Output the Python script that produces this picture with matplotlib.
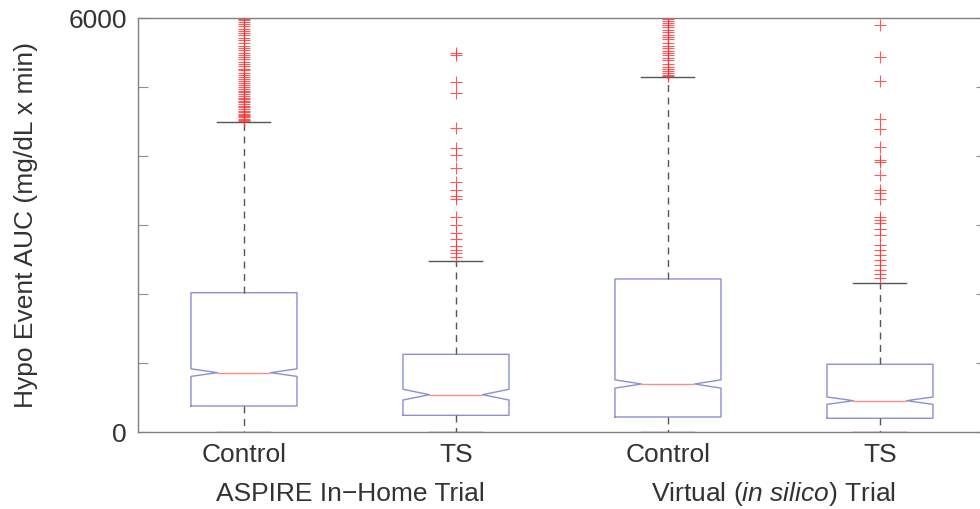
import numpy as np
import matplotlib
matplotlib.use('Agg')
import matplotlib.pyplot as plt

# Summary statistics per group (mg/dL x min)
groups = ['Control', 'TS', 'Control', 'TS']
trial_names = ['ASPIRE In\u2212Home Trial', 'Virtual ($\\it{in\\ silico}$) Trial']

medians = [864, 545, 700, 458]
q1 = [381, 246, 222, 203]
q3 = [2023, 1130, 2222, 986]
whisker_lo = [0, 0, 0, 0]
whisker_hi = [4497, 2487, 5154, 2159]
notch_lo = [810, 468, 640, 405]
notch_hi = [920, 623, 760, 512]

outliers_control_home = [
    4510, 4528, 4545, 4566, 4582, 4604, 4618, 4645, 4662, 4690, 4712, 4735,
    4762, 4788, 4805, 4832, 4851, 4874, 4902, 4925, 4953, 4980, 5004, 5036,
    5062, 5090, 5115, 5152, 5184, 5212, 5245, 5270, 5302, 5335, 5362, 5405,
    5432, 5465, 5502, 5533, 5565, 5604, 5642, 5683, 5714, 5752, 5785, 5822,
    5850, 5884, 5912, 5945, 5972, 5995,
]
outliers_ts_home = [
    5501, 5468, 5081, 4913, 4406, 4116, 4019, 3835, 3632, 3512, 3429, 3381,
    3125, 3004, 2893, 2797, 2700, 2642, 2594, 2545,
]
outliers_control_virtual = [
    5165, 5185, 5202, 5232, 5262, 5294, 5335, 5402, 5424, 5462, 5503, 5522,
    5563, 5594, 5642, 5702, 5733, 5764, 5802, 5835, 5872, 5903, 5934, 5962,
    5990,
]
outliers_ts_virtual = [
    5903, 5443, 5091, 4541, 4391, 4130, 3946, 3913, 3729, 3512, 3464, 3377,
    3125, 3077, 3029, 2942, 2859, 2714, 2642, 2570, 2497, 2425, 2352, 2294,
    2232,
]
outliers = [outliers_control_home, outliers_ts_home,
            outliers_control_virtual, outliers_ts_virtual]

plt.rcParams['font.family'] = ['Liberation Sans', 'DejaVu Sans']
plt.rcParams['mathtext.fontset'] = 'custom'
plt.rcParams['mathtext.rm'] = 'Liberation Sans'
plt.rcParams['mathtext.it'] = 'Liberation Sans:italic'

FS = 19
TXT = '#333333'

fig = plt.figure(figsize=(9.8, 5.09), dpi=100)
ax = fig.add_axes([0.1408, 0.1507, 0.8653, 0.8134])

stats = []
for i in range(len(groups)):
    stats.append({
        'med': medians[i], 'q1': q1[i], 'q3': q3[i],
        'whislo': whisker_lo[i], 'whishi': whisker_hi[i],
        'cilo': notch_lo[i], 'cihi': notch_hi[i],
        'fliers': np.array(outliers[i]),
    })

box_color = '#8a8fd8'
ax.bxp(stats, positions=[1, 2, 3, 4], widths=0.5, capwidths=0.25,
       shownotches=True,
       boxprops=dict(color=box_color, linewidth=1.0),
       medianprops=dict(color='#ff8a8a', linewidth=1.0),
       whiskerprops=dict(color='#555555', linewidth=1.0, linestyle=(0, (5, 4))),
       capprops=dict(color='#555555', linewidth=1.0),
       flierprops=dict(marker='+', markeredgecolor='#ff3030', markersize=9,
                       markeredgewidth=0.8, linestyle='none', alpha=0.8))

ax.set_xlim(0.5, 4.5)
ax.set_ylim(0, 6000)
ax.set_yticks(np.arange(0, 6001, 1000))
ax.set_yticklabels(['0', '', '', '', '', '', '6000'])
ax.set_xticks([1, 2, 3, 4])
ax.set_xticklabels(groups)

for side in ['left', 'right', 'top', 'bottom']:
    ax.spines[side].set_color('#808080')
    ax.spines[side].set_linewidth(1.0)

ax.tick_params(axis='y', direction='in', length=7, width=0.8, color='#909090',
               right=True, labelsize=FS, labelcolor=TXT, pad=8)
ax.tick_params(axis='x', length=0, labelsize=FS, labelcolor=TXT, pad=7.5)

for k, name in enumerate(trial_names):
    ax.text(1.5 + 2 * k, -0.15, name, transform=ax.get_xaxis_transform(),
            ha='center', va='center', fontsize=FS, color=TXT)

ax.set_ylabel('Hypo Event AUC (mg/dL x min)', fontsize=FS, color=TXT,
              labelpad=22)

fig.savefig('out.png', dpi=100)
